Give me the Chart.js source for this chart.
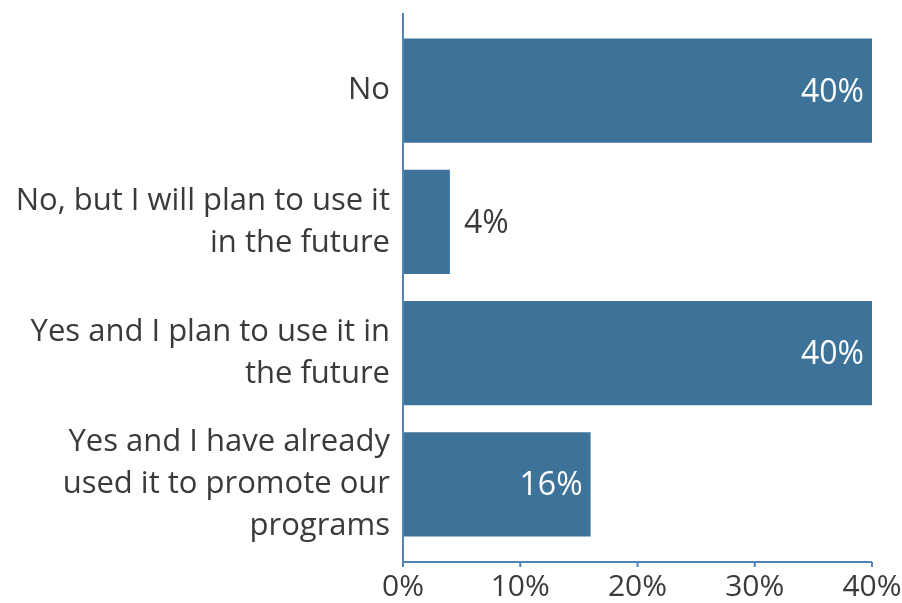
<!DOCTYPE html>
<html>
<head>
<meta charset="utf-8">
<script src="https://cdn.jsdelivr.net/npm/chart.js@4"></script>
<style>
  html, body { margin: 0; padding: 0; background: #fff; }
  #wrap { width: 902px; height: 603px; }
</style>
</head>
<body>
<div id="wrap"><canvas id="barChart" width="902" height="603"></canvas></div>
<script>
// chart data
const categories = [
    ['No'],
    ['No, but I will plan to use it', 'in the future'],
    ['Yes and I plan to use it in', 'the future'],
    ['Yes and I have already', 'used it to promote our', 'programs']
];
const values = [40, 4, 40, 16];
const xTicks = [0, 10, 20, 30, 40];

const barColor = '#3d7299';
const axisColor = '#4f86b5';
const textColor = '#3a3a3a';
const fontFamily = '"Open Sans", Lato, sans-serif';

// axis lines drawn a little past the category band, like the original
const axisLines = {
    id: 'axisLines',
    afterDraw(chart) {
        const ctx = chart.ctx;
        const area = chart.chartArea;
        const x = chart.scales.x;
        const ext = 12;
        ctx.save();
        ctx.strokeStyle = axisColor;
        ctx.lineWidth = 2;
        ctx.beginPath();
        ctx.moveTo(area.left, area.top - ext);
        ctx.lineTo(area.left, area.bottom + ext);
        ctx.lineTo(area.right, area.bottom + ext);
        xTicks.forEach(function(t) {
            const px = x.getPixelForValue(t);
            ctx.moveTo(px, area.bottom + ext);
            ctx.lineTo(px, area.bottom + ext + 5);
        });
        ctx.stroke();
        ctx.restore();
    }
};

// value labels: inside the bar when it is wide, outside otherwise
const valueLabels = {
    id: 'valueLabels',
    afterDatasetsDraw(chart) {
        const ctx = chart.ctx;
        const meta = chart.getDatasetMeta(0);
        ctx.save();
        ctx.font = '32px ' + fontFamily;
        ctx.textBaseline = 'middle';
        meta.data.forEach(function(bar, i) {
            const label = values[i] + '%';
            const w = bar.x - bar.base;
            if (w > 80) {
                ctx.fillStyle = '#ffffff';
                ctx.textAlign = 'right';
                ctx.fillText(label, bar.x - 8, bar.y + 2);
            } else {
                ctx.fillStyle = textColor;
                ctx.textAlign = 'left';
                ctx.fillText(label, bar.x + 14, bar.y + 2);
            }
        });
        ctx.restore();
    }
};

new Chart(document.getElementById('barChart'), {
    type: 'bar',
    data: {
        labels: categories,
        datasets: [{
            data: values,
            backgroundColor: barColor,
            borderWidth: 0,
            categoryPercentage: 1,
            barPercentage: 0.795
        }]
    },
    options: {
        indexAxis: 'y',
        responsive: false,
        animation: false,
        events: [],
        layout: { padding: { top: 25, right: 30, left: 0, bottom: 0 } },
        plugins: {
            legend: { display: false },
            tooltip: { enabled: false }
        },
        scales: {
            x: {
                min: 0,
                max: 40,
                afterFit: function(s) {
                    s.height = 53;
                    s.paddingLeft = 0;
                    s.paddingRight = 0;
                },
                grid: { display: false },
                border: { display: false },
                ticks: {
                    stepSize: 10,
                    padding: 11,
                    color: textColor,
                    font: { family: fontFamily, size: 30 },
                    callback: function(v) { return v + '%'; }
                }
            },
            y: {
                afterFit: function(s) {
                    s.width = 403;
                    s.paddingTop = 0;
                    s.paddingBottom = 0;
                },
                grid: { display: false },
                border: { display: false },
                ticks: {
                    autoSkip: false,
                    padding: 5,
                    color: textColor,
                    font: { family: fontFamily, size: 31, lineHeight: 1.36 }
                }
            }
        }
    },
    plugins: [axisLines, valueLabels]
});
</script>
</body>
</html>
